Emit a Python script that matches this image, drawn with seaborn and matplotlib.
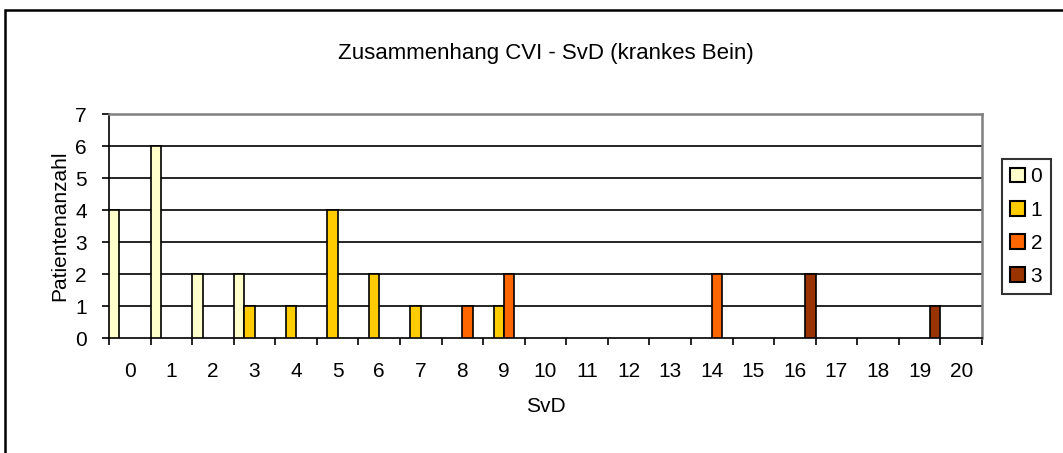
import matplotlib
matplotlib.use('Agg')
import matplotlib.pyplot as plt
from matplotlib.patches import Rectangle
from matplotlib.ticker import FixedLocator, NullFormatter
import pandas as pd
import seaborn as sns

# SvD categories on the x axis
svd = list(range(21))
cvi_levels = ['0', '1', '2', '3']

# patient counts per SvD value, one list per CVI grade
cvi_0 = [4, 6, 2, 2, 0, 0, 0, 0, 0, 0, 0, 0, 0, 0, 0, 0, 0, 0, 0, 0, 0]
cvi_1 = [0, 0, 0, 1, 1, 4, 2, 1, 0, 1, 0, 0, 0, 0, 0, 0, 0, 0, 0, 0, 0]
cvi_2 = [0, 0, 0, 0, 0, 0, 0, 0, 1, 2, 0, 0, 0, 0, 2, 0, 0, 0, 0, 0, 0]
cvi_3 = [0, 0, 0, 0, 0, 0, 0, 0, 0, 0, 0, 0, 0, 0, 0, 0, 2, 0, 0, 1, 0]

colors = ['#FFFFCC', '#FFCC00', '#FF6600', '#993300']

rows = []
for level, vals in zip(cvi_levels, [cvi_0, cvi_1, cvi_2, cvi_3]):
    for s, v in zip(svd, vals):
        if v > 0:
            rows.append({'SvD': s, 'CVI': level, 'count': v})
df = pd.DataFrame(rows)

sns.set_style('white')
plt.rcParams['font.family'] = ['Liberation Sans', 'DejaVu Sans']
plt.rcParams['text.color'] = 'black'
plt.rcParams['axes.labelcolor'] = 'black'
plt.rcParams['xtick.color'] = 'black'
plt.rcParams['ytick.color'] = 'black'

fs = 15

fig = plt.figure(figsize=(10.63, 4.53), dpi=100)
ax = fig.add_axes([109 / 1063, 1 - 338 / 453, (982 - 109) / 1063, (338 - 114) / 453])

sns.barplot(data=df, x='SvD', y='count', hue='CVI', order=svd, hue_order=cvi_levels,
            palette=colors, saturation=1, width=1, edgecolor='black', linewidth=1.2,
            ax=ax, legend=True, zorder=3)

ax.set_xlim(-0.5, 20.5)
ax.set_ylim(0, 7)
ax.set_yticks(range(8))
ax.set_xticks(range(21))
ax.set_xticklabels([str(s) for s in svd])
ax.xaxis.set_minor_locator(FixedLocator([i - 0.5 for i in range(22)]))
ax.xaxis.set_minor_formatter(NullFormatter())
ax.tick_params(axis='x', which='major', length=0, labelsize=fs, pad=17)
ax.tick_params(axis='x', which='minor', length=5, width=1.2, direction='out', bottom=True)
ax.tick_params(axis='y', length=5, width=1.2, direction='out', left=True, labelsize=fs, pad=11)

for y in range(1, 7):
    ax.axhline(y, color='black', linewidth=1.2, zorder=1)

for side in ['top', 'right']:
    ax.spines[side].set_color('#808080')
    ax.spines[side].set_linewidth(1.8)
for side in ['left', 'bottom']:
    ax.spines[side].set_color('black')
    ax.spines[side].set_linewidth(1.2)

ax.set_xlabel('SvD', fontsize=fs, labelpad=12)
ax.set_ylabel('Patientenanzahl', fontsize=fs, labelpad=4)
fig.text(546 / 1063, 1 - 54 / 453, 'Zusammenhang CVI - SvD (krankes Bein)', fontsize=16,
         ha='center', va='center')

leg = ax.legend(loc='upper left', bbox_to_anchor=(1002 / 1063, 1 - 159 / 453),
                bbox_transform=fig.transFigure, frameon=True, fancybox=False,
                edgecolor='black', fontsize=fs, handlelength=0.72, handleheight=0.72,
                handletextpad=0.25, labelspacing=0.68, borderpad=0.4, borderaxespad=0)
leg.get_frame().set_linewidth(1.5)
for h in leg.legend_handles:
    h.set_edgecolor('black')
    h.set_linewidth(1.5)

fig.patches.append(Rectangle((5 / 1063, -0.1), 1.2, 1 - 10 / 453 + 0.1,
                             transform=fig.transFigure, fill=False,
                             edgecolor='black', linewidth=1.8))

fig.savefig('out.png', dpi=100)
